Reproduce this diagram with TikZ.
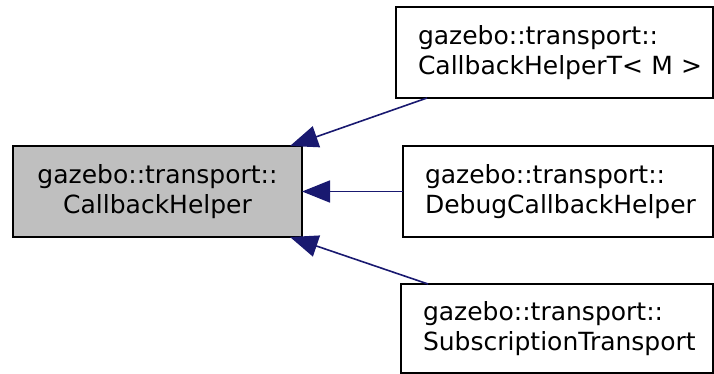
\documentclass[tikz,border=0pt]{standalone}
\usepackage{fontspec}
\setmainfont{DejaVu Sans}
\usetikzlibrary{arrows.meta,calc}
\definecolor{edgeblue}{RGB}{25,25,112}
\definecolor{nodegray}{RGB}{191,191,191}
\begin{document}
\begin{tikzpicture}[x=1pt,y=-1pt,
  box/.style={draw=black, line width=1.3pt, anchor=north west, outer sep=0pt,
    inner ysep=0pt, minimum height=91pt, font=\fontsize{25}{30}\selectfont},
  basebox/.style={box, align=center, fill=nodegray, minimum width=289pt, inner xsep=0pt},
  derived/.style={box, fill=white, align=left, inner xsep=22pt, text width=#1},
  inherit/.style={draw=edgeblue, line width=1.6pt, -{Triangle[length=28pt,width=22pt]}}]
  \useasboundingbox (0,0) rectangle (714,374);
  \node[basebox] (base) at (13,146) {gazebo::transport::\\CallbackHelper};
  \node[derived=273pt] (cbt) at (396,7) {gazebo::transport::\\\mbox{CallbackHelperT< M >}};
  \node[derived=266pt] (dbg) at (403,146) {gazebo::transport::\\\mbox{DebugCallbackHelper}};
  \node[derived=268pt, minimum height=89pt] (sub) at (401,284) {gazebo::transport::\\\mbox{SubscriptionTransport}};
  \draw[inherit] ($(cbt.south west)+(31,0)$) -- ($(base.north east)+(-12,0)$);
  \draw[inherit] (dbg.west) -- (base.east);
  \draw[inherit] ($(sub.north west)+(27,0)$) -- ($(base.south east)+(-12,0)$);
\end{tikzpicture}
\end{document}
